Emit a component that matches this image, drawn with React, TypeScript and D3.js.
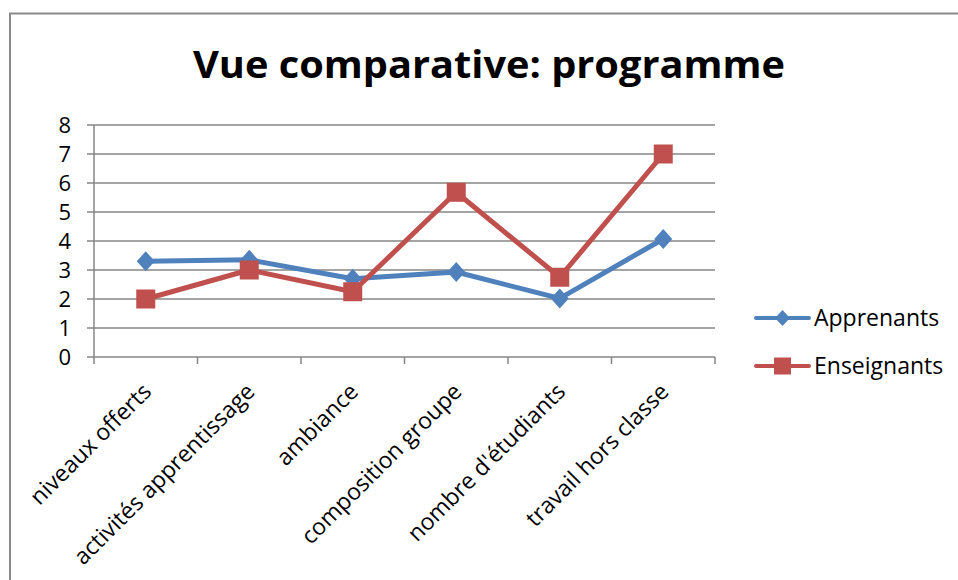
import React from "react";
import * as d3 from "d3";

const categories = [
  "niveaux offerts",
  "activités apprentissage",
  "ambiance",
  "composition groupe",
  "nombre d'étudiants",
  "travail hors classe",
];
const apprenants = [3.3, 3.35, 2.7, 2.93, 2.02, 4.07];
const enseignants = [2.0, 3.0, 2.25, 5.68, 2.75, 7.0];
const yTicks = [0, 1, 2, 3, 4, 5, 6, 7, 8];
const seriesNames = ["Apprenants", "Enseignants"];
const title = "Vue comparative: programme";

const W = 958;
const H = 580;
const FONT = "'Open Sans', Lato, sans-serif";
const BLUE = "#4F81BD";
const RED = "#C0504D";
const GRID = "#868686";

export default function App() {
  const left = 94;
  const right = 715;
  const top = 125;
  const bottom = 357;

  const x = d3.scaleBand<string>().domain(categories).range([left, right]).padding(0);
  const y = d3.scaleLinear().domain([0, 8]).range([bottom, top]);
  const cx = (c: string) => (x(c) as number) + x.bandwidth() / 2;

  const line = d3
    .line<number>()
    .x((_, i) => cx(categories[i]))
    .y((d) => y(d));

  const diamond = (px: number, py: number, rx: number, ry: number) =>
    `M${px},${py - ry}L${px + rx},${py}L${px},${py + ry}L${px - rx},${py}Z`;

  const boundaries = [...categories.map((c) => x(c) as number), right];

  return (
    <svg
      width={W}
      height={H}
      style={{ position: "absolute", left: 0, top: 0, background: "#fff" }}
      fontFamily={FONT}
    >
      <rect x={0} y={0} width={W} height={H} fill="#fff" />
      {/* frame */}
      <path d={`M10,${H + 5}V13.5H${W + 5}`} fill="none" stroke="#8a8a8a" strokeWidth={2} />

      <text x={489} y={78} textAnchor="middle" fontSize={38} fontWeight={700} fill="#000" textLength={592} lengthAdjust="spacingAndGlyphs">
        {title}
      </text>

      {/* gridlines */}
      {yTicks.map((t) => (
        <line key={t} x1={87} x2={right} y1={y(t)} y2={y(t)} stroke={GRID} strokeWidth={1.5} />
      ))}
      {/* y axis */}
      <line x1={left} x2={left} y1={top} y2={bottom} stroke={GRID} strokeWidth={1.5} />
      {/* x ticks */}
      {boundaries.map((b, i) => (
        <line key={i} x1={b} x2={b} y1={bottom} y2={bottom + 7} stroke={GRID} strokeWidth={1.5} />
      ))}
      {/* y labels */}
      {yTicks.map((t) => (
        <text key={t} x={71} y={y(t) + 7.5} textAnchor="end" fontSize={22} fill="#000">
          {t}
        </text>
      ))}
      {/* x labels */}
      {categories.map((c) => (
        <text
          key={c}
          transform={`translate(${cx(c) + 7},${393}) rotate(-45)`}
          textAnchor="end"
          fontSize={23}
          fill="#000"
        >
          {c}
        </text>
      ))}

      {/* series */}
      <path d={line(apprenants) as string} fill="none" stroke={BLUE} strokeWidth={5} strokeLinejoin="round" />
      <path d={line(enseignants) as string} fill="none" stroke={RED} strokeWidth={5} strokeLinejoin="round" />
      {apprenants.map((v, i) => (
        <path key={i} d={diamond(cx(categories[i]), y(v), 9, 10)} fill={BLUE} />
      ))}
      {enseignants.map((v, i) => (
        <rect key={i} x={cx(categories[i]) - 9.5} y={y(v) - 9.5} width={19} height={19} fill={RED} />
      ))}

      {/* legend */}
      {seriesNames.map((s, i) => {
        const ly = 318 + i * 48;
        const col = i === 0 ? BLUE : RED;
        return (
          <g key={s}>
            <line x1={756} x2={809} y1={ly} y2={ly} stroke={col} strokeWidth={4} strokeLinecap="round" />
            {i === 0 ? (
              <path d={diamond(782.5, ly, 7.5, 8)} fill={col} />
            ) : (
              <rect x={774} y={ly - 8.5} width={17} height={17} fill={col} />
            )}
            <text x={814} y={ly + 8} fontSize={23} fill="#000">
              {s}
            </text>
          </g>
        );
      })}
    </svg>
  );
}
